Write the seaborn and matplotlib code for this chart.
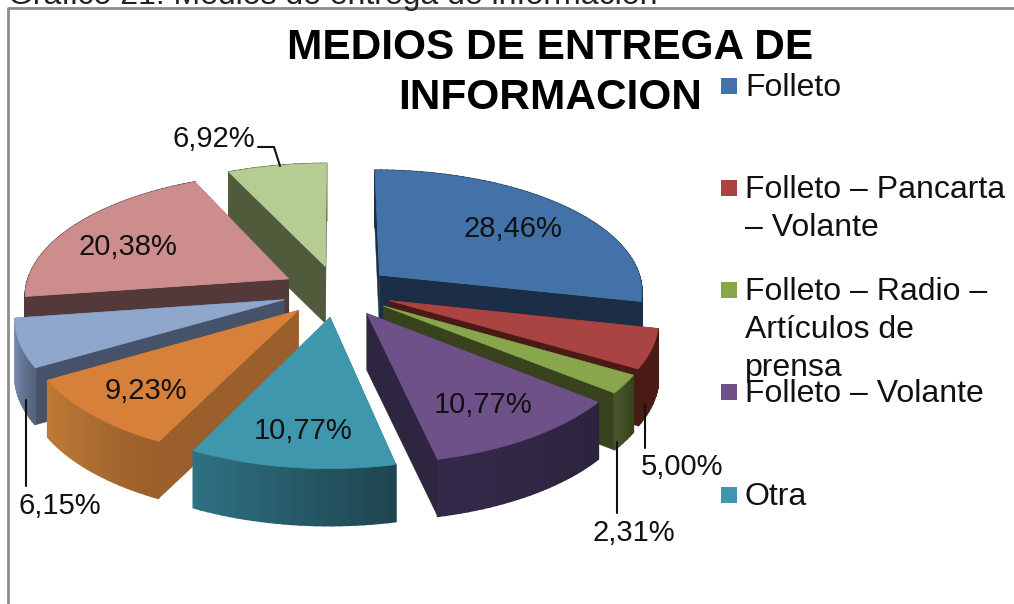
import numpy as np
import matplotlib
matplotlib.use('Agg')
import matplotlib.pyplot as plt
from matplotlib.colors import to_rgb
import seaborn as sns

# datos de la torta
categorias = ['Folleto', 'Folleto – Pancarta\n– Volante', 'Folleto – Radio –\nArtículos de\nprensa',
              'Folleto – Volante', 'Otra', 'Otra 2', 'Otra 3', 'Otra 4', 'Otra 5']
valores = [28.46, 5.00, 2.31, 10.77, 10.77, 9.23, 6.15, 20.38, 6.92]
etiquetas = ['28,46%', '5,00%', '2,31%', '10,77%', '10,77%', '9,23%', '6,15%', '20,38%', '6,92%']
leyenda_n = 5

# colores: tapa, pared izquierda, pared derecha, cara radial
tapa = ['#4272A8', '#A94442', '#88A64B', '#6F5189', '#3F97AE', '#D6803A', '#8FA6CD', '#CD8D8C', '#B5CC92']
pared_izq = ['#1B2E45', '#4A1A14', '#45562A', '#35294A', '#2F7182', '#C07A38', '#8499BC', '#53393A', '#4F5B3A']
pared_der = ['#1B2E45', '#4A1A14', '#38431D', '#2C233D', '#1F4550', '#9A5F2A', '#55657F', '#53393A', '#4F5B3A']
radial = ['#1B2E45', '#4A1A14', '#38431D', '#2E2540', '#2F7182', '#9A5F2A', '#45526A', '#53393A', '#4F5B3A']

# posiciones de los textos (pixeles)
pos_etiquetas = [(513, 229), (682, 467), (634, 533), (483, 405), (303, 431), (146, 391), (60, 506), (128, 247), (214, 139)]
lineas_guia = [([645, 645], [405, 448]), ([617, 617], [442, 513]), ([26, 26], [400, 486]), ([258, 274, 280], [147, 147, 166])]
leyenda_y = [88, 190, 292, 394, 497]

CX, CY = 337, 291
A, B = 264, 123
KX, KY = 0.125, 0.135
EXPL = 0.21
PROF = 57

sns.set_theme(style='white')
plt.rcParams['font.family'] = ['Liberation Sans', 'DejaVu Sans']


def proyectar(x, y, z=0.0):
    return CX + A * x / (1 + KX * y), CY - B * y / (1 + KY * y) + PROF * z


def mezclar(c1, c2, t):
    a, b = np.array(to_rgb(c1)), np.array(to_rgb(c2))
    return tuple(a + (b - a) * t)


def dibujar_porcion(ax, t1, t2, i):
    medio = (t1 + t2) / 2
    ox, oy = EXPL * np.sin(medio), EXPL * np.cos(medio)
    ang = np.linspace(t1, t2, max(int((t2 - t1) * 40), 6))
    xs, ys = ox + np.sin(ang), oy + np.cos(ang)

    # caras radiales, la del fondo primero
    caras = [(ox + np.sin(t1), oy + np.cos(t1)), (ox + np.sin(t2), oy + np.cos(t2))]
    caras.sort(key=lambda p: -p[1])
    for px, py in caras:
        p = [proyectar(ox, oy), proyectar(px, py), proyectar(px, py, 1), proyectar(ox, oy, 1)]
        ax.fill(*zip(*p), color=radial[i], lw=0.3, zorder=3)

    # pared exterior con degradado
    orden = np.argsort(-(ys[:-1] + ys[1:]))
    for j in orden:
        p = [proyectar(xs[j], ys[j]), proyectar(xs[j + 1], ys[j + 1]),
             proyectar(xs[j + 1], ys[j + 1], 1), proyectar(xs[j], ys[j], 1)]
        t = j / max(len(xs) - 2, 1)
        # t1 queda a la derecha si la porcion esta abajo
        if np.cos(medio) < 0:
            col = mezclar(pared_der[i], pared_izq[i], t)
        else:
            col = mezclar(pared_izq[i], pared_der[i], t)
        ax.fill(*zip(*p), color=col, lw=1.2, zorder=3)

    # tapa
    borde = [proyectar(ox, oy)] + [proyectar(a, b) for a, b in zip(xs, ys)]
    ax.fill(*zip(*borde), color=tapa[i], lw=0.5, zorder=3)


fig = plt.figure(figsize=(10.14, 6.04), dpi=100)
ax = fig.add_axes([0, 0, 1, 1])
ax.set_xlim(0, 1014)
ax.set_ylim(604, 0)
ax.axis('off')

# marco gris y titulo del documento
ax.plot([8, 8, 1014], [604, 8, 8], color='#8C8C8C', lw=2, zorder=1)
ax.text(8, 4, 'Gráfico 21: Medios de entrega de información', fontsize=23, color='#222222', va='baseline', ha='left')

# angulos a partir de los valores
cortes = np.cumsum([0] + valores) / np.sum(valores) * 2 * np.pi
medios = (cortes[:-1] + cortes[1:]) / 2
for i in np.argsort(-np.cos(medios)):
    dibujar_porcion(ax, cortes[i], cortes[i + 1], i)

for xs, ys in lineas_guia:
    ax.plot(xs, ys, color='#111111', lw=1.5, zorder=4)

for txt, (x, y) in zip(etiquetas, pos_etiquetas):
    ax.text(x, y, txt, fontsize=21, color='#111111', ha='center', va='center', zorder=5)

ax.text(550, 48, 'MEDIOS DE ENTREGA DE', fontsize=30.5, fontweight='bold', color='black', ha='center', va='center', zorder=5)
ax.text(550, 98, 'INFORMACION', fontsize=30.5, fontweight='bold', color='black', ha='center', va='center', zorder=5)

# leyenda
for i in range(leyenda_n):
    ax.scatter([729], [leyenda_y[i] - 2], marker='s', s=130, color=tapa[i], lw=0, zorder=5)
    for k, linea in enumerate(categorias[i].split('\n')):
        ax.text(745, leyenda_y[i] + k * 38, linea, fontsize=23, color='#111111', ha='left', va='center', zorder=5)

fig.savefig('out.png', dpi=100)
